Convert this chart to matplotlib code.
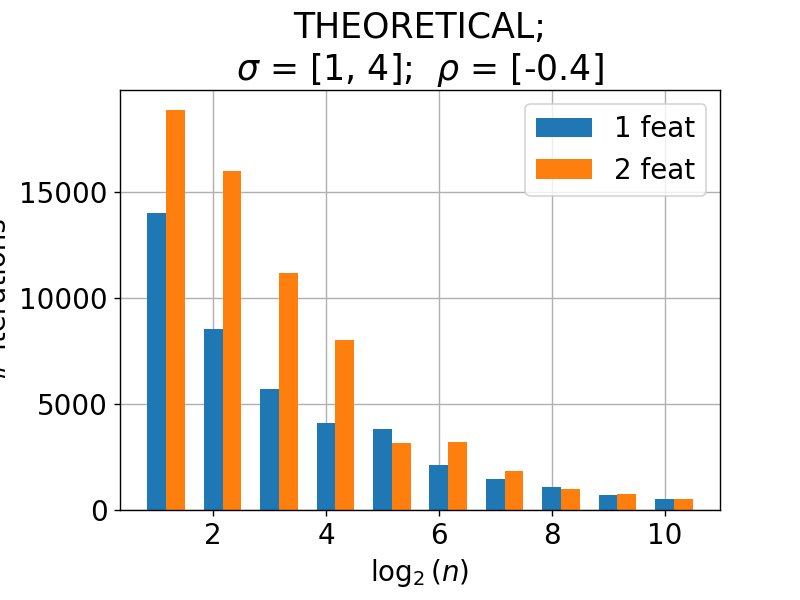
import numpy as np
import matplotlib.pyplot as plt

log_n = [1, 2, 3, 4, 5, 6, 7, 8, 9, 10]
iters_1feat = [14000, 8540, 5710, 4100, 3820, 2120, 1460, 1085, 710, 520]
iters_2feat = [18870, 15990, 11180, 8020, 3160, 3210, 1840, 990, 755, 520]


def main():
    plt.rcParams['font.size'] = 16
    fig = plt.figure(figsize=(6.4, 4.8), dpi=125)
    ax = fig.add_subplot(111)
    fig.subplots_adjust(left=0.15, right=0.9, bottom=0.15, top=0.85)

    x = np.array(log_n)
    w = 1 / 3
    ax.bar(x, iters_1feat, width=w, label='1 feat', zorder=2)
    ax.bar(x + w, iters_2feat, width=w, label='2 feat', zorder=2)

    ax.set_xticks([2, 4, 6, 8, 10])
    ax.set_yticks([0, 5000, 10000, 15000])
    ax.grid(True, zorder=0)
    ax.set_axisbelow(True)
    ax.legend(loc='upper right')
    ax.set_xlabel(r'$\log_2(n)$')
    ax.set_ylabel('# iterations')
    ax.set_title('THEORETICAL;\n' + r'$\sigma$ = [1, 4];  $\rho$ = [-0.4]', fontsize=20)

    plt.savefig('out.png', dpi=125)


if __name__ == '__main__':
    main()
